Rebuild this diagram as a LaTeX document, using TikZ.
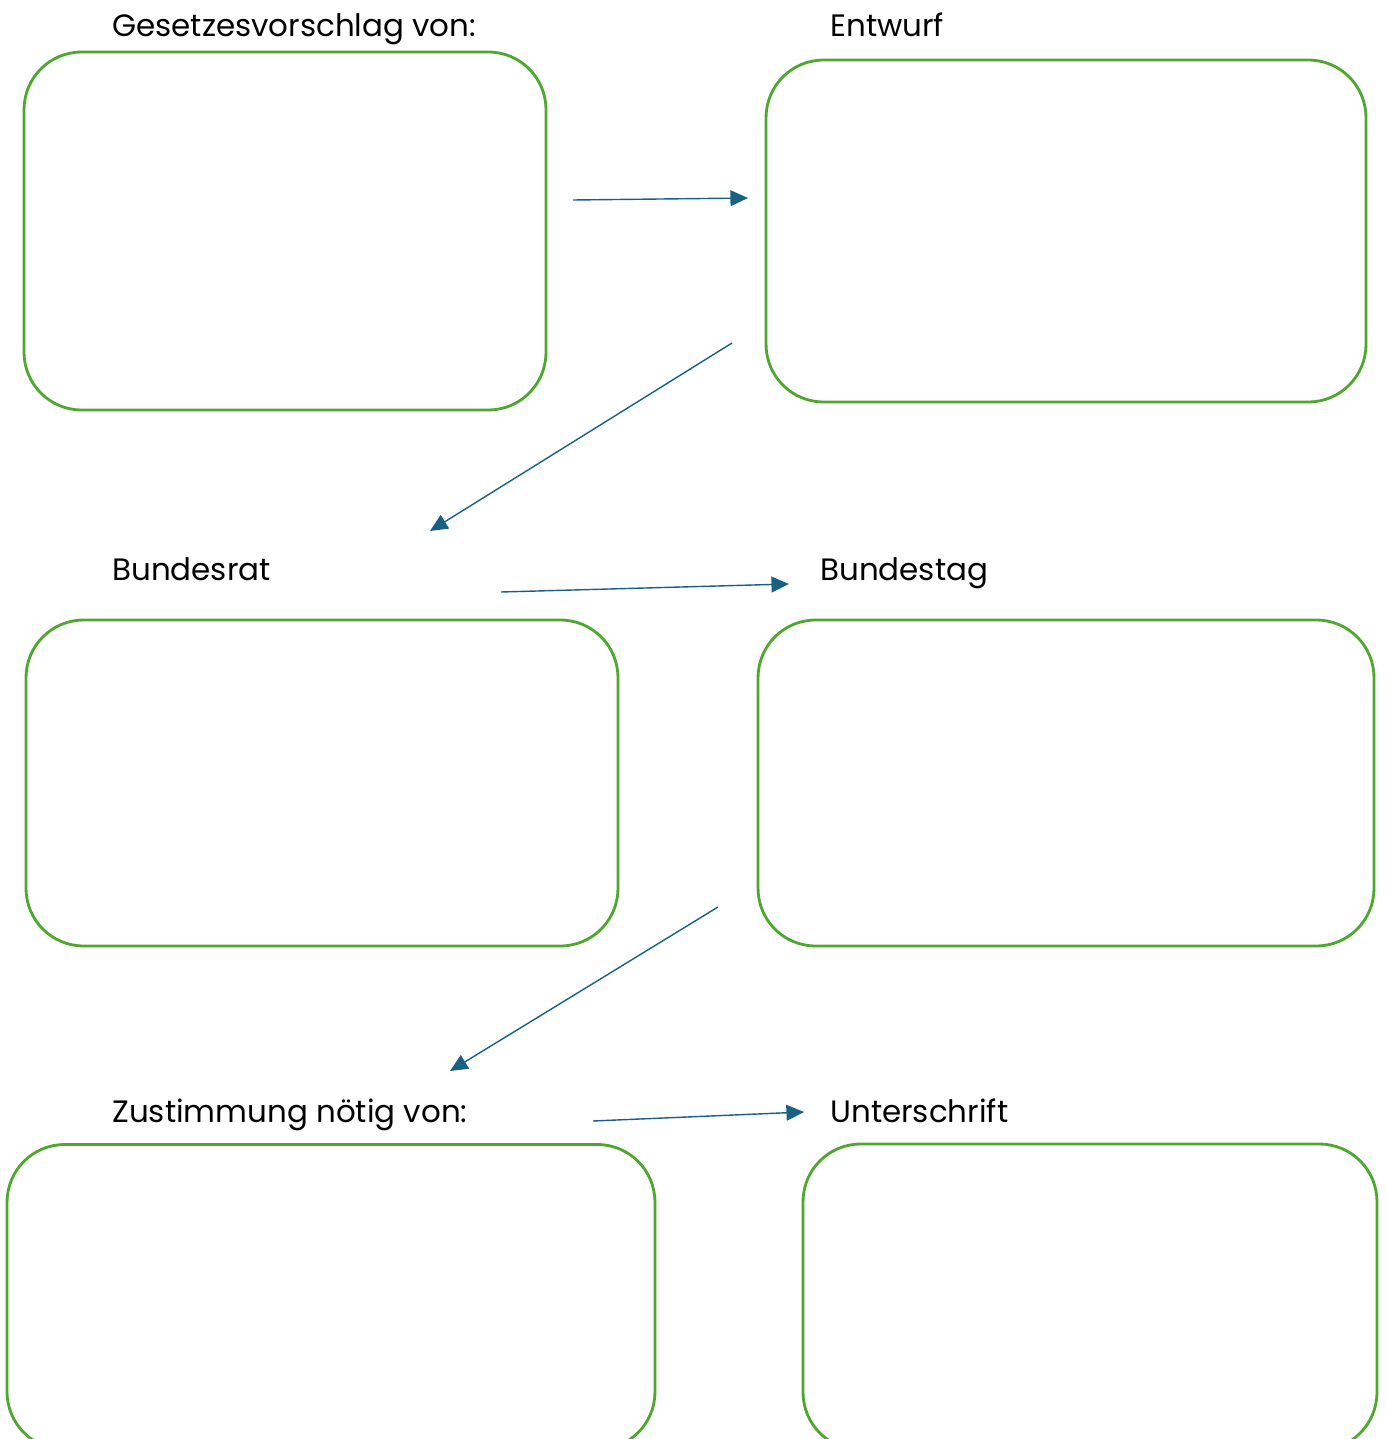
\documentclass[tikz,border=0pt]{standalone}
\usepackage{fontspec}
\setmainfont{Poppins}
\usetikzlibrary{arrows.meta}

\definecolor{boxgreen}{RGB}{78,167,46}
\definecolor{arrowblue}{RGB}{24,96,132}

\begin{document}
\begin{tikzpicture}[x=0.02cm, y=-0.02cm,
  box/.style={draw=boxgreen, line width=1.6pt, rounded corners=1.15cm, inner sep=0pt},
  label/.style={anchor=base west, inner sep=0pt, font=\fontsize{17.6}{22}\selectfont},
  pfeil/.style={draw=arrowblue, line width=0.8pt, -{Triangle[length=10pt, width=9pt]}}]

\useasboundingbox (0,0) rectangle (1386,1439);
\clip (0,0) rectangle (1386,1439);

% Row 1
\node[label] (lvorschlag) at (112,37) {Gesetzesvorschlag von:};
\node[box, minimum width=10.44cm, minimum height=7.16cm] (vorschlag) at (285,231) {};
\node[label] (lentwurf) at (830,37) {Entwurf};
\node[box, minimum width=12cm, minimum height=6.84cm] (entwurf) at (1066,231) {};

% Row 2
\node[label] (lrat) at (112,580) {Bundesrat};
\node[box, minimum width=11.84cm, minimum height=6.52cm] (rat) at (322,783) {};
\node[label] (ltag) at (820,580) {Bundestag};
\node[box, minimum width=12.32cm, minimum height=6.52cm] (tag) at (1066,783) {};

% Row 3
\node[label] (lzust) at (112,1122) {Zustimmung nötig von:};
\node[box, minimum width=12.96cm, minimum height=6.1cm] (zust) at (331,1297) {};
\node[label] (lunter) at (830,1122) {Unterschrift};
\node[box, minimum width=11.48cm, minimum height=6.12cm] (unter) at (1090,1297) {};

% Arrows
\coordinate (a1s) at (573,200);  \coordinate (a1e) at (748,198);
\coordinate (a2s) at (732,343);  \coordinate (a2e) at (430,531);
\coordinate (a3s) at (501,592);  \coordinate (a3e) at (789,584);
\coordinate (a4s) at (718,907);  \coordinate (a4e) at (450,1071);
\coordinate (a5s) at (593,1121); \coordinate (a5e) at (804,1112);

\draw[pfeil] (a1s) -- (a1e);
\draw[pfeil] (a2s) -- (a2e);
\draw[pfeil] (a3s) -- (a3e);
\draw[pfeil] (a4s) -- (a4e);
\draw[pfeil] (a5s) -- (a5e);

\end{tikzpicture}
\end{document}
